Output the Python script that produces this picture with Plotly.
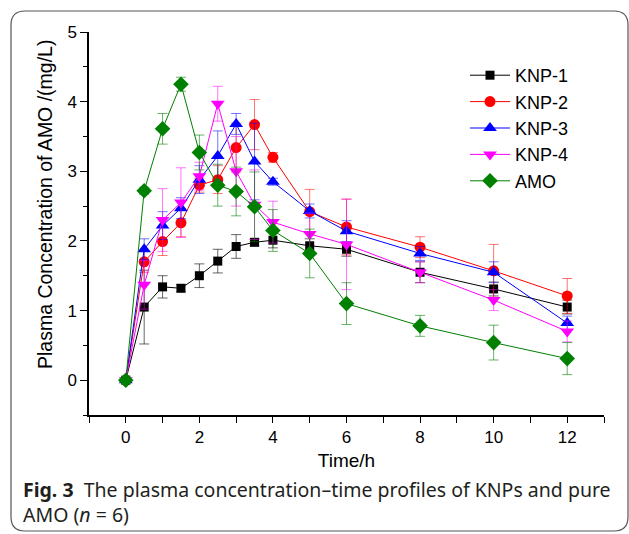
import plotly.graph_objects as go

# sampling times (h)
time_h = [0, 0.5, 1, 1.5, 2, 2.5, 3, 3.5, 4, 5, 6, 8, 10, 12]

# mean plasma concentration (mg/L) and SD
knp1 = [0, 1.05, 1.34, 1.32, 1.50, 1.71, 1.92, 1.98, 2.01, 1.93, 1.88, 1.55, 1.31, 1.05]
knp1_sd = [0, 0.53, 0.16, 0.05, 0.17, 0.17, 0.17, 0.05, 0.11, 0.10, 0.10, 0.15, 0.10, 0.10]

knp2 = [0, 1.70, 1.99, 2.26, 2.80, 2.88, 3.34, 3.67, 3.20, 2.42, 2.20, 1.91, 1.57, 1.21]
knp2_sd = [0, 0.15, 0.20, 0.20, 0.10, 0.20, 0.35, 0.36, 0.07, 0.32, 0.40, 0.15, 0.38, 0.25]

knp3 = [0, 1.88, 2.22, 2.47, 2.88, 3.22, 3.68, 3.14, 2.85, 2.43, 2.14, 1.82, 1.55, 0.82]
knp3_sd = [0, 0.15, 0.20, 0.15, 0.20, 0.36, 0.15, 0.55, 0.05, 0.10, 0.15, 0.10, 0.15, 0.10]

knp4 = [0, 1.37, 2.30, 2.55, 2.93, 3.97, 3.00, 2.52, 2.27, 2.10, 1.95, 1.55, 1.15, 0.70]
knp4_sd = [0, 0.35, 0.45, 0.50, 0.20, 0.25, 0.50, 0.50, 0.30, 0.30, 0.65, 0.15, 0.15, 0.15]

amo = [0, 2.72, 3.61, 4.25, 3.27, 2.80, 2.71, 2.49, 2.15, 1.82, 1.10, 0.78, 0.54, 0.31]
amo_sd = [0, 0.05, 0.22, 0.10, 0.25, 0.30, 0.35, 0.50, 0.30, 0.35, 0.30, 0.15, 0.25, 0.23]

series = [
    ("KNP-1", knp1, knp1_sd, "#000000", "rgba(0,0,0,0.6)", "square", 9),
    ("KNP-2", knp2, knp2_sd, "#ff0000", "rgba(255,0,0,0.55)", "circle", 11),
    ("KNP-3", knp3, knp3_sd, "#0000ff", "rgba(0,0,255,0.55)", "triangle-up", 12),
    ("KNP-4", knp4, knp4_sd, "#ff00ff", "rgba(255,0,255,0.55)", "triangle-down", 12),
    ("AMO", amo, amo_sd, "#008000", "rgba(0,128,0,0.6)", "diamond", 12),
]

W, H = 629, 534
L, R, T, B = 89, 25, 32, 119

fig = go.Figure()
for name, y, sd, col, ecol, sym, sz in series:
    fig.add_trace(go.Scatter(
        x=time_h, y=y, name=name, mode="lines+markers",
        line=dict(color=col, width=1),
        marker=dict(symbol=sym, size=sz, color=col),
        error_y=dict(type="data", array=sd, visible=True, color=ecol, thickness=1, width=5),
    ))


def px(x):
    return (x - L) / (W - L - R)


def py(y):
    return (H - B - y) / (H - T - B)


# rounded frame around figure + caption
x0, x1, y0, y1, r = 11, 628, 11, 531, 14
path = (f"M {px(x0 + r)},{py(y0)} L {px(x1 - r)},{py(y0)} Q {px(x1)},{py(y0)} {px(x1)},{py(y0 + r)} "
        f"L {px(x1)},{py(y1 - r)} Q {px(x1)},{py(y1)} {px(x1 - r)},{py(y1)} "
        f"L {px(x0 + r)},{py(y1)} Q {px(x0)},{py(y1)} {px(x0)},{py(y1 - r)} "
        f"L {px(x0)},{py(y0 + r)} Q {px(x0)},{py(y0)} {px(x0 + r)},{py(y0)} Z")
fig.add_shape(type="path", path=path, xref="paper", yref="paper",
              line=dict(color="#555555", width=1.2), layer="below")

fig.add_annotation(
    x=px(21), y=py(474), xref="paper", yref="paper", xanchor="left", yanchor="top",
    align="left", showarrow=False,
    text="<b>Fig. 3</b>  The plasma concentration–time profiles of KNPs and pure<br>AMO (<i>n</i> = 6)",
    font=dict(family="Noto Sans", size=19.5, color="#231f20"),
)

# y title as rotated annotation so it can sit a bit above the plot centre, like the original
fig.add_annotation(
    x=px(45), y=py(205), xref="paper", yref="paper", xanchor="center", yanchor="middle",
    textangle=-90, showarrow=False,
    text="Plasma Concentration of AMO /(mg/L)",
    font=dict(family="Liberation Sans, Arial", size=19.5, color="#000"),
)

axis_font = dict(family="Liberation Sans, Arial", size=17, color="#000")
fig.update_xaxes(
    range=[-1, 13], tickvals=list(range(-1, 14)),
    ticktext=[str(v) if v % 2 == 0 and v >= 0 else "" for v in range(-1, 14)],
    ticks="outside", ticklen=6, tickwidth=1, tickcolor="#000",
    showline=True, linecolor="#000", linewidth=1.5, showgrid=False, zeroline=False,
    tickfont=axis_font,
    title=dict(text="Time/h", font=dict(family="Liberation Sans, Arial", size=19, color="#000"), standoff=8),
)
fig.update_yaxes(
    range=[-0.5, 5], tickvals=[0, 1, 2, 3, 4, 5],
    ticks="outside", ticklen=7, tickwidth=1, tickcolor="#000",
    minor=dict(tickvals=[-0.5, 0.5, 1.5, 2.5, 3.5, 4.5], ticks="outside", ticklen=4, tickcolor="#000"),
    showline=True, linecolor="#000", linewidth=1.5, showgrid=False, zeroline=False,
    tickfont=axis_font,
)

fig.update_layout(
    width=W, height=H,
    margin=dict(l=L, r=R, t=T, b=B, autoexpand=False),
    paper_bgcolor="white", plot_bgcolor="white",
    showlegend=True,
    legend=dict(x=px(465), y=py(57), xanchor="left", yanchor="top",
                font=dict(family="Liberation Sans, Arial", size=18, color="#000"),
                bgcolor="rgba(0,0,0,0)", tracegroupgap=0, itemwidth=40),
)

# drop the default 8px page margin so the figure sits at the window corner
fig.write_html("out.html", config={"displayModeBar": False},
               post_script="document.body.style.margin='0';")
